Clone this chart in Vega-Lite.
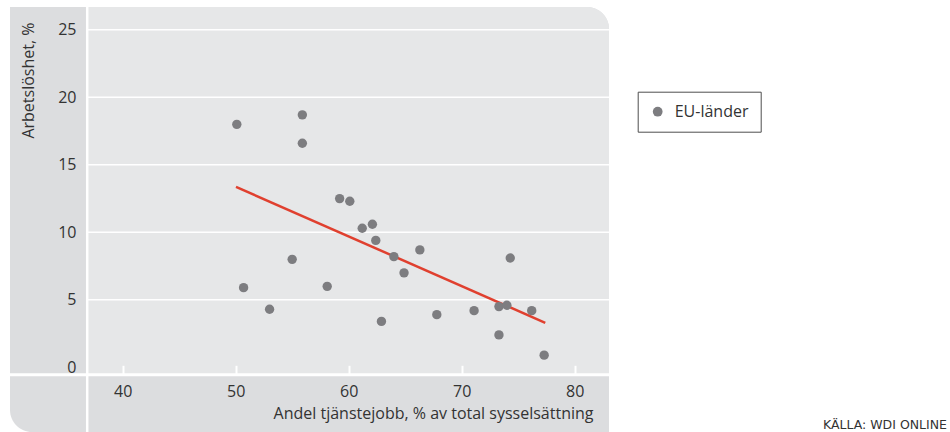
{
  "$schema": "https://vega.github.io/schema/vega-lite/v6.json",
  "width": 599,
  "height": 425,
  "autosize": {"type": "none"},
  "padding": {"left": 10, "top": 7, "right": 341, "bottom": 0},
  "background": "white",
  "config": {
    "view": {"stroke": null, "fill": null},
    "font": "Open Sans"
  },
  "title": {
    "text": "KÄLLA: WDI ONLINE",
    "orient": "bottom",
    "anchor": "end",
    "frame": "group",
    "font": "DejaVu Sans",
    "fontSize": 12.5,
    "fontWeight": "normal",
    "color": "#333333",
    "dx": 338,
    "offset": -14
  },
  "layer": [
    {
      "data": {"values": [{}]},
      "mark": {"type": "rect", "color": "#dcdddf", "cornerRadiusBottomLeft": 22, "cornerRadiusTopRight": 22},
      "encoding": {
        "x": {"datum": 30.027, "type": "quantitative", "scale": {"domain": [30.027, 83.04], "nice": false, "zero": false}},
        "x2": {"datum": 83.04},
        "y": {"datum": -4.79, "type": "quantitative", "scale": {"domain": [-4.79, 26.69], "nice": false, "zero": false}},
        "y2": {"datum": 26.69}
      }
    },
    {
      "data": {"values": [{}]},
      "mark": {"type": "rect", "color": "#e6e7e8", "cornerRadiusTopRight": 22},
      "encoding": {
        "x": {"datum": 36.86, "type": "quantitative", "scale": {"domain": [30.027, 83.04], "nice": false, "zero": false}},
        "x2": {"datum": 83.04},
        "y": {"datum": -0.548, "type": "quantitative", "scale": {"domain": [-4.79, 26.69], "nice": false, "zero": false}},
        "y2": {"datum": 26.69}
      }
    },
    {
      "data": {"values": [{"v": 5}, {"v": 10}, {"v": 15}, {"v": 20}, {"v": 25}]},
      "mark": {"type": "rule", "color": "white", "strokeWidth": 1.5},
      "encoding": {
        "y": {"field": "v", "type": "quantitative", "scale": {"domain": [-4.79, 26.69], "nice": false, "zero": false}},
        "x": {"datum": 36.86, "type": "quantitative", "scale": {"domain": [30.027, 83.04], "nice": false, "zero": false}},
        "x2": {"datum": 83.04}
      }
    },
    {
      "data": {"values": [{}]},
      "mark": {"type": "rule", "color": "white", "strokeWidth": 2.5},
      "encoding": {
        "x": {"datum": 36.86, "type": "quantitative", "scale": {"domain": [30.027, 83.04], "nice": false, "zero": false}},
        "y": {"datum": -4.79, "type": "quantitative", "scale": {"domain": [-4.79, 26.69], "nice": false, "zero": false}},
        "y2": {"datum": 26.69}
      }
    },
    {
      "data": {"values": [{}]},
      "mark": {"type": "rule", "color": "white", "strokeWidth": 3},
      "encoding": {
        "y": {"datum": -0.548, "type": "quantitative", "scale": {"domain": [-4.79, 26.69], "nice": false, "zero": false}},
        "x": {"datum": 30.027, "type": "quantitative", "scale": {"domain": [30.027, 83.04], "nice": false, "zero": false}},
        "x2": {"datum": 83.04}
      }
    },
    {
      "data": {"values": [
        {"tjanstejobb": 50.03, "arbetsloshet": 13.36},
        {"tjanstejobb": 77.4, "arbetsloshet": 3.3}
      ]},
      "mark": {"type": "line", "color": "#e0402f", "strokeWidth": 2.5},
      "encoding": {
        "x": {"field": "tjanstejobb", "type": "quantitative", "scale": {"domain": [30.027, 83.04], "nice": false, "zero": false}},
        "y": {"field": "arbetsloshet", "type": "quantitative", "scale": {"domain": [-4.79, 26.69], "nice": false, "zero": false}}
      }
    },
    {
      "data": {"values": [
        {"tjanstejobb": 50.1, "arbetsloshet": 18.0, "grupp": "EU-länder"},
        {"tjanstejobb": 55.9, "arbetsloshet": 18.7, "grupp": "EU-länder"},
        {"tjanstejobb": 55.9, "arbetsloshet": 16.6, "grupp": "EU-länder"},
        {"tjanstejobb": 50.7, "arbetsloshet": 5.9, "grupp": "EU-länder"},
        {"tjanstejobb": 53.0, "arbetsloshet": 4.3, "grupp": "EU-länder"},
        {"tjanstejobb": 55.0, "arbetsloshet": 8.0, "grupp": "EU-länder"},
        {"tjanstejobb": 58.1, "arbetsloshet": 6.0, "grupp": "EU-länder"},
        {"tjanstejobb": 59.2, "arbetsloshet": 12.5, "grupp": "EU-länder"},
        {"tjanstejobb": 60.1, "arbetsloshet": 12.3, "grupp": "EU-länder"},
        {"tjanstejobb": 61.2, "arbetsloshet": 10.3, "grupp": "EU-länder"},
        {"tjanstejobb": 62.1, "arbetsloshet": 10.6, "grupp": "EU-länder"},
        {"tjanstejobb": 62.4, "arbetsloshet": 9.4, "grupp": "EU-länder"},
        {"tjanstejobb": 62.9, "arbetsloshet": 3.4, "grupp": "EU-länder"},
        {"tjanstejobb": 64.0, "arbetsloshet": 8.2, "grupp": "EU-länder"},
        {"tjanstejobb": 64.9, "arbetsloshet": 7.0, "grupp": "EU-länder"},
        {"tjanstejobb": 66.3, "arbetsloshet": 8.7, "grupp": "EU-länder"},
        {"tjanstejobb": 67.8, "arbetsloshet": 3.9, "grupp": "EU-länder"},
        {"tjanstejobb": 71.1, "arbetsloshet": 4.2, "grupp": "EU-länder"},
        {"tjanstejobb": 73.3, "arbetsloshet": 4.5, "grupp": "EU-länder"},
        {"tjanstejobb": 74.0, "arbetsloshet": 4.6, "grupp": "EU-länder"},
        {"tjanstejobb": 74.3, "arbetsloshet": 8.1, "grupp": "EU-länder"},
        {"tjanstejobb": 76.2, "arbetsloshet": 4.2, "grupp": "EU-länder"},
        {"tjanstejobb": 73.3, "arbetsloshet": 2.4, "grupp": "EU-länder"},
        {"tjanstejobb": 77.3, "arbetsloshet": 0.9, "grupp": "EU-länder"}
      ]},
      "mark": {"type": "point", "filled": true, "size": 88, "opacity": 1, "shape": "circle"},
      "encoding": {
        "x": {
          "field": "tjanstejobb", "type": "quantitative",
          "scale": {"domain": [30.027, 83.04], "nice": false, "zero": false},
          "axis": {
            "title": "Andel tjänstejobb, % av total sysselsättning",
            "values": [40, 50, 60, 70, 80],
            "offset": -57.7,
            "domain": false,
            "grid": false,
            "ticks": true,
            "tickSize": -9,
            "tickWidth": 2,
            "tickColor": "white",
            "labelPadding": 31.4,
            "labelBaseline": "alphabetic",
            "labelFont": "Open Sans",
            "labelFontSize": 16,
            "labelColor": "#333333",
            "labelFlush": false,
            "titleFont": "Open Sans",
            "titleFontSize": 16,
            "titleFontWeight": "normal",
            "titleColor": "#333333",
            "titleX": 583,
            "titleY": 43.7,
            "titleAlign": "right",
            "titleBaseline": "alphabetic",
            "zindex": 1
          }
        },
        "y": {
          "field": "arbetsloshet", "type": "quantitative",
          "scale": {"domain": [-4.79, 26.69], "nice": false, "zero": false},
          "axis": {
            "title": "Arbetslöshet, %",
            "values": [0, 5, 10, 15, 20, 25],
            "offset": -68,
            "domain": false,
            "grid": false,
            "ticks": false,
            "tickSize": 0,
            "labelPadding": 2,
            "labelFont": "Open Sans",
            "labelFontSize": 16,
            "labelColor": "#333333",
            "labelFlush": false,
            "titleFont": "Open Sans",
            "titleFontSize": 16,
            "titleFontWeight": "normal",
            "titleColor": "#333333",
            "titleX": -45,
            "titleY": 15,
            "titleAngle": -90,
            "titleAlign": "right",
            "titleBaseline": "alphabetic",
            "zindex": 1
          }
        },
        "color": {
          "field": "grupp", "type": "nominal",
          "scale": {"range": ["#7d7d80"]},
          "legend": {
            "title": null,
            "orient": "none",
            "legendX": 627.7,
            "legendY": 84.7,
            "padding": 12,
            "strokeColor": "#4d4d4d",
            "fillColor": "white",
            "symbolType": "circle",
            "symbolSize": 95,
            "symbolStrokeWidth": 0,
            "labelFont": "Open Sans",
            "labelFontSize": 16,
            "labelColor": "#333333",
            "labelOffset": 9
          }
        }
      }
    }
  ]
}
